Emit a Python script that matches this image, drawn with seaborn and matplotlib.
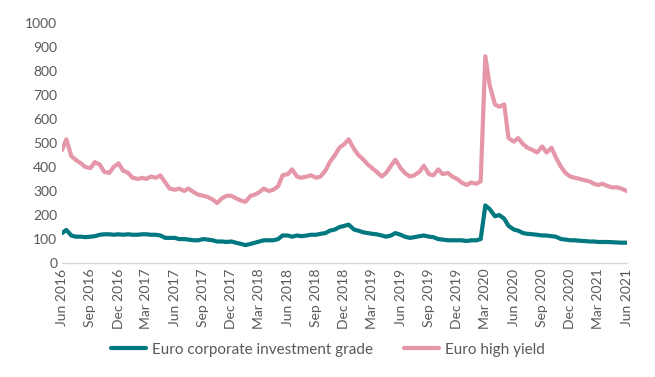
import matplotlib
matplotlib.use("Agg")
import matplotlib.pyplot as plt
import matplotlib.dates as mdates
import pandas as pd
import seaborn as sns

# semi-monthly observations, Jun 2016 - Jun 2021
dates = pd.date_range("2016-06-01", "2021-06-01", freq="SMS")

high_yield = [
    470, 515, 445, 430, 415, 400, 395, 420, 410, 380, 375, 400,  # 2016
    415, 385, 375, 355, 350, 355, 350, 360, 355, 365, 335, 310,
    305, 310, 300, 310, 295, 285, 280, 275, 265, 250, 270, 280,  # 2017
    280, 270, 260, 255, 280, 285, 295, 310, 300, 305, 320, 365,
    370, 390, 360, 355, 360, 365, 355, 360, 385, 420, 450, 480,  # 2018
    495, 515, 475, 450, 430, 410, 395, 380, 360, 375, 405, 430,
    395, 375, 360, 365, 380, 405, 370, 365, 390, 370, 375, 360,  # 2019
    350, 335, 325, 335, 330, 340, 860, 740, 660, 650, 660, 520,
    505, 520, 495, 480, 470, 460, 485, 460, 480, 440, 400, 375,  # 2020
    360, 355, 350, 345, 340, 330, 325, 330, 320, 315, 315, 310,
    300,
]

investment_grade = [
    125, 138, 115, 110, 110, 108, 110, 112, 118, 120, 120, 118,  # 2016
    120, 118, 120, 118, 118, 120, 120, 118, 118, 115, 105, 105,
    105, 100, 100, 98, 95, 95, 100, 98, 95, 90, 90, 88,  # 2017
    90, 85, 80, 75, 80, 85, 90, 95, 95, 95, 100, 115,
    115, 110, 115, 112, 115, 118, 118, 122, 125, 135, 140, 150,  # 2018
    155, 160, 140, 135, 128, 125, 122, 120, 115, 110, 115, 125,
    118, 110, 105, 108, 112, 115, 110, 108, 100, 98, 95, 95,  # 2019
    95, 95, 92, 95, 95, 100, 240, 225, 195, 200, 185, 155,
    140, 135, 125, 122, 120, 118, 115, 115, 112, 110, 100, 98,  # 2020
    95, 95, 93, 92, 90, 90, 88, 88, 88, 87, 86, 85,
    85,
]

df = pd.DataFrame({
    "date": list(dates) * 2,
    "spread": investment_grade + high_yield,
    "series": ["Euro corporate investment grade"] * len(dates)
    + ["Euro high yield"] * len(dates),
})

sns.set_style("white")
plt.rcParams["font.family"] = ["Lato", "DejaVu Sans"]

fig = plt.figure(figsize=(6.55, 3.77), dpi=100)
ax = fig.add_axes([0.0947, 0.302, 0.862, 0.638])

palette = {"Euro corporate investment grade": "#007880",
           "Euro high yield": "#E696A9"}
sns.lineplot(data=df, x="date", y="spread", hue="series", palette=palette,
             linewidth=3, ax=ax, legend=True)

ax.set_ylim(0, 1000)
ax.set_yticks(range(0, 1001, 100))
ax.set_xlim(pd.Timestamp("2016-06-01"), pd.Timestamp("2021-06-01"))
ax.xaxis.set_major_locator(mdates.MonthLocator(bymonth=[3, 6, 9, 12]))
ax.xaxis.set_major_formatter(mdates.DateFormatter("%b %Y"))
plt.setp(ax.get_xticklabels(), rotation=90)
ax.tick_params(axis="both", length=0, labelsize=10, colors="#595959")
ax.tick_params(axis="x", pad=4)
ax.set_xlabel("")
ax.set_ylabel("")

for side in ["top", "right", "left"]:
    ax.spines[side].set_visible(False)
ax.spines["bottom"].set_color("#d9d9d9")
ax.spines["bottom"].set_linewidth(1)

handles, labels = ax.get_legend_handles_labels()
ax.legend(handles, labels, loc="center", bbox_to_anchor=(0.471, -0.36),
          ncol=2, frameon=False, fontsize=11, handlelength=2.3,
          handletextpad=0.4, columnspacing=2.0, labelcolor="#595959")

fig.savefig("out.png", dpi=100)
